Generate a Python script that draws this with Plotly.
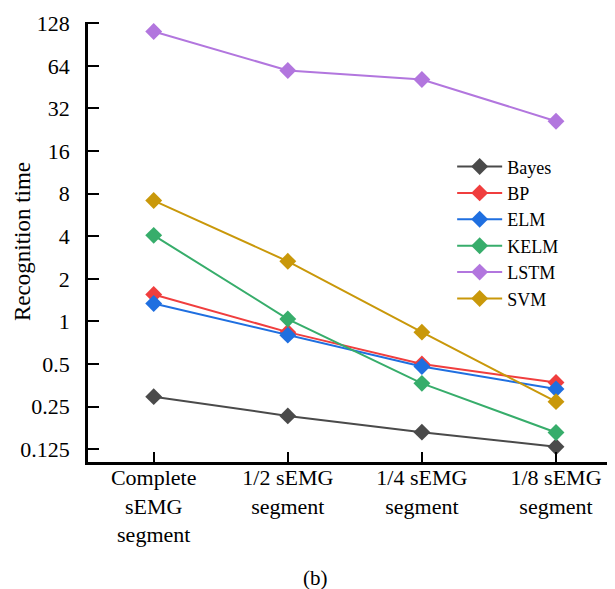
import math
import plotly.graph_objects as go

categories = ["Complete<br>sEMG<br>segment", "1/2 sEMG<br>segment", "1/4 sEMG<br>segment", "1/8 sEMG<br>segment"]
bayes = [0.294, 0.215, 0.165, 0.130]
bp = [1.55, 0.84, 0.50, 0.37]
elm = [1.34, 0.80, 0.48, 0.333]
kelm = [4.06, 1.04, 0.365, 0.164]
lstm = [112, 59.4, 51.3, 26.0]
svm = [7.15, 2.66, 0.84, 0.271]
y_ticks = [0.125, 0.25, 0.5, 1, 2, 4, 8, 16, 32, 64, 128]
y_tick_text = ["0.125", "0.25", "0.5", "1", "2", "4", "8", "16", "32", "64", "128"]

series = [
    ("Bayes", bayes, "#4a4a4a"),
    ("BP", bp, "#f03e3e"),
    ("ELM", elm, "#1f6fe0"),
    ("KELM", kelm, "#37ad6b"),
    ("LSTM", lstm, "#b276de"),
    ("SVM", svm, "#c9980a"),
]

xs = list(range(len(categories)))
fig = go.Figure()
for name, vals, color in series:
    fig.add_trace(go.Scatter(
        x=xs, y=vals, name=name, mode="lines+markers",
        line=dict(color=color, width=2),
        marker=dict(symbol="diamond", size=13, color=color),
    ))

font = "Liberation Serif, Times New Roman, serif"
fig.update_layout(
    width=607, height=581,
    margin=dict(l=80, r=0, t=14, b=127),
    plot_bgcolor="white", paper_bgcolor="white",
    font=dict(family=font, size=22, color="black"),
    showlegend=True,
    legend=dict(x=0.691, y=0.713, xanchor="left", yanchor="top",
                font=dict(family=font, size=18, color="black"),
                bgcolor="rgba(0,0,0,0)", itemwidth=45),
    xaxis=dict(
        tickmode="array", tickvals=xs, ticktext=categories,
        range=[-0.49, 3.44], showgrid=False, zeroline=False, automargin=False,
        showline=True, linecolor="black", linewidth=2.5,
        ticks="inside", ticklen=10, tickwidth=2, tickcolor="black",
        tickfont=dict(family=font, size=22), ticklabelstandoff=-6,
    ),
    yaxis=dict(
        type="log", tickmode="array", tickvals=y_ticks, ticktext=y_tick_text,
        range=[math.log10(2 ** -3.3), math.log10(2 ** 7.03)],
        showgrid=False, zeroline=False, automargin=False,
        showline=True, linecolor="black", linewidth=2.5,
        ticks="inside", ticklen=11, tickwidth=2, tickcolor="black",
        tickfont=dict(family=font, size=22), ticklabelstandoff=11,
    ),
    annotations=[
        dict(text="Recognition time", x=-66 / 527, y=0.5, xref="paper", yref="paper",
             textangle=-90, showarrow=False, xanchor="center", yanchor="middle",
             font=dict(family=font, size=23)),
        dict(text="(b)", x=0.431, y=-0.264, xref="paper", yref="paper",
             showarrow=False, xanchor="center", yanchor="middle",
             font=dict(family=font, size=21)),
    ],
)
fig.write_html("out.html")
